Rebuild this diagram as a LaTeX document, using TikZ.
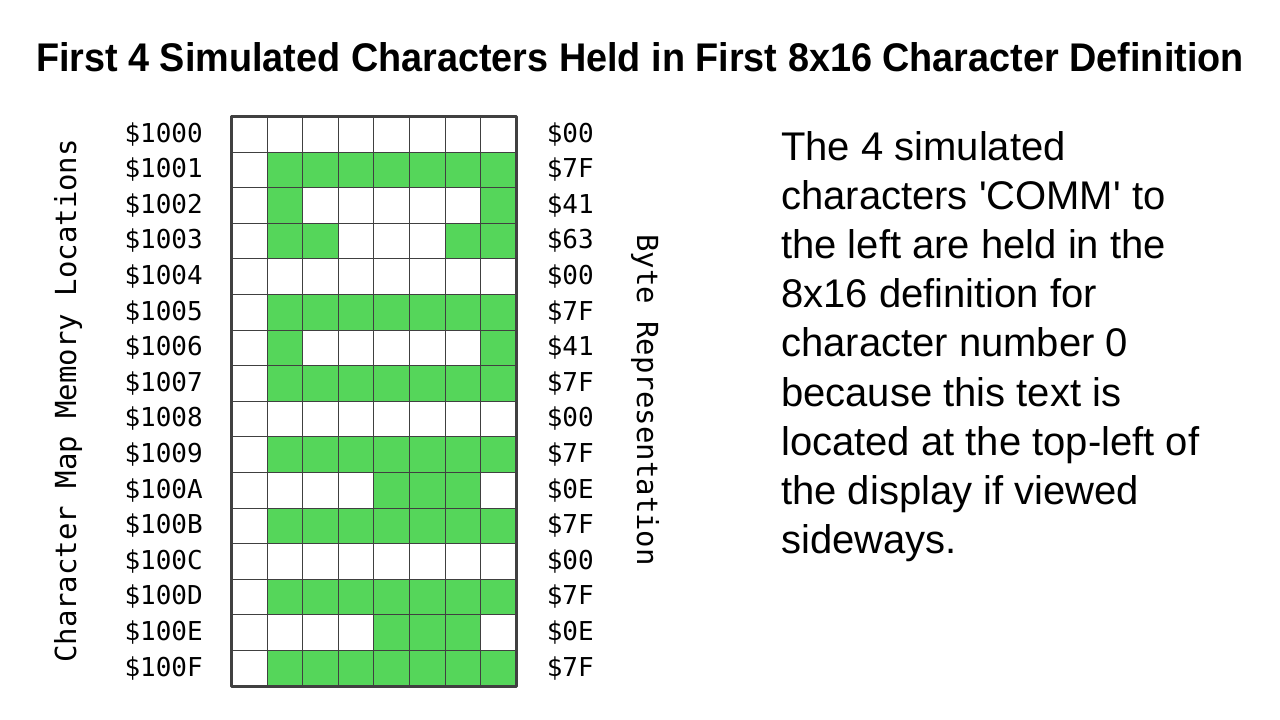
\documentclass[tikz,border=0pt]{standalone}
\usepackage{fontspec}
\setmainfont{Liberation Sans}
\setmonofont{DejaVu Sans Mono}
\usetikzlibrary{positioning}
\definecolor{pixelgreen}{RGB}{85,214,90}
\definecolor{framegray}{RGB}{64,64,64}

\begin{document}
\begin{tikzpicture}[x=1pt, y=-1pt,
        cell/.style={rectangle, draw=black!75, line width=0.8pt, minimum size=35.6pt, inner sep=0pt, anchor=north west},
        lit/.style={cell, fill=pixelgreen},
        addr/.style={font=\ttfamily\fontsize{26}{26}\selectfont, inner sep=0pt},
        byteval/.style={font=\ttfamily\fontsize{26}{26}\selectfont, inner sep=0pt},
        axislabel/.style={font=\ttfamily\fontsize{29}{29}\selectfont, inner sep=0pt},
        heading/.style={font=\bfseries\fontsize{40}{40}\selectfont, inner sep=0pt},
        note/.style={font=\fontsize{40}{49.2}\selectfont, align=left, inner sep=0pt}
        ]

        \useasboundingbox[fill=white] (0,0) rectangle (1280,720);

        % Title
        \node (title) [heading] at (640,57) {\scalebox{0.945}[1]{First 4 Simulated Characters Held in First 8x16 Character Definition}};

        % Grid of pixels, one row per byte
        \foreach \lo/\hex/\bits [count=\r from 0] in {
                0/00/{0,0,0,0,0,0,0,0}, 1/7F/{0,1,1,1,1,1,1,1}, 2/41/{0,1,0,0,0,0,0,1}, 3/63/{0,1,1,0,0,0,1,1},
                4/00/{0,0,0,0,0,0,0,0}, 5/7F/{0,1,1,1,1,1,1,1}, 6/41/{0,1,0,0,0,0,0,1}, 7/7F/{0,1,1,1,1,1,1,1},
                8/00/{0,0,0,0,0,0,0,0}, 9/7F/{0,1,1,1,1,1,1,1}, A/0E/{0,0,0,0,1,1,1,0}, B/7F/{0,1,1,1,1,1,1,1},
                C/00/{0,0,0,0,0,0,0,0}, D/7F/{0,1,1,1,1,1,1,1}, E/0E/{0,0,0,0,1,1,1,0}, F/7F/{0,1,1,1,1,1,1,1}} {
            \foreach \b [count=\c from 0] in \bits {
                \ifnum\b=1
                    \node (c-\r-\c) [lit] at (231+35.6*\c, 116+35.6*\r) {};
                \else
                    \node (c-\r-\c) [cell] at (231+35.6*\c, 116+35.6*\r) {};
                \fi
            }
            \node (addr-\r) [addr, left=28pt of c-\r-0] {\$100\lo};
            \node (byte-\r) [byteval, right=30pt of c-\r-7] {\$\hex};
        }

        % Frame
        \draw [framegray, line width=3pt, line join=round] (c-0-0.north west) rectangle (c-15-7.south east);

        % Axis labels
        \node (addrtitle) [axislabel, rotate=90] at (68,401) {Character Map Memory Locations};
        \node (bytetitle) [axislabel, rotate=-90] at (645,400) {Byte Representation};

        % Explanation
        \node (explain) [note, anchor=north west] at (781,131) {The 4 simulated\\characters \textquotesingle COMM\textquotesingle{} to\\the left are held in the\\8x16 definition for\\character number 0\\because this text is\\located at the top-left of\\the display if viewed\\sideways.};

    \end{tikzpicture}
\end{document}
